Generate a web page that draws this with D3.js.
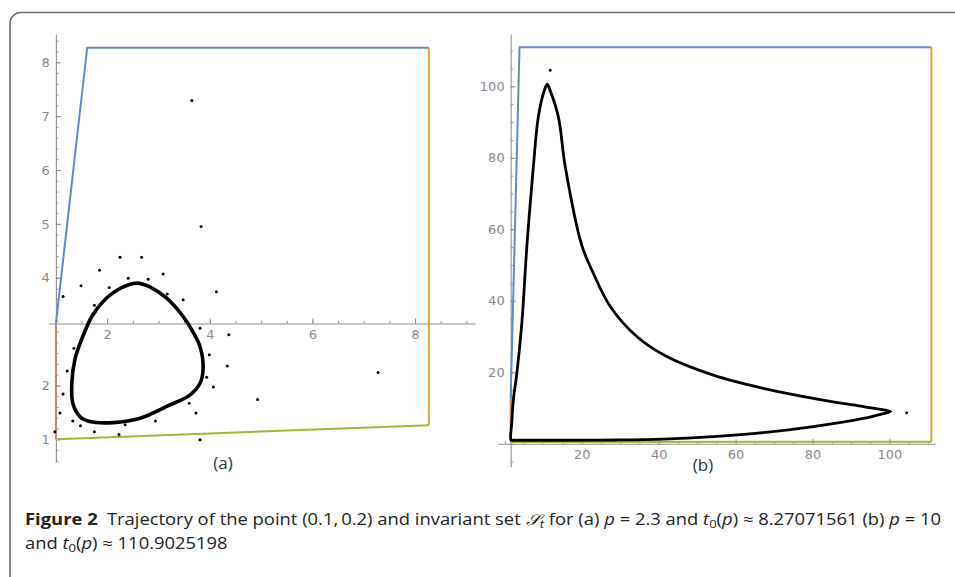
<!DOCTYPE html>
<html>
<head>
<meta charset="utf-8">
<script src="https://cdn.jsdelivr.net/npm/d3@7"></script>
<style>
  body { margin: 0; background: #fff; }
</style>
</head>
<body>
<div id="fig"></div>
<script>
// ---- panel (a): p = 2.3, t0 = 8.27 ----
var xTicksA = [2, 4, 6, 8];
var yTicksA = [1, 2, 4, 5, 6, 7, 8];
var blueA   = [[1.0, 3.15], [1.61, 8.27], [8.27, 8.27]];
var orangeA = [[8.27, 8.27], [8.27, 1.26]];
var greenA  = [[8.27, 1.26], [1.0, 1.0]];
var redA    = [[1.0, 1.0], [1.0, 3.15]];
// limit cycle of the trajectory
var loopA = [[1.50, 2.85], [1.37, 2.48], [1.31, 2.04], [1.33, 1.67], [1.47, 1.42], [1.66, 1.33],
             [2.12, 1.31], [2.64, 1.39], [3.16, 1.61], [3.61, 1.82], [3.81, 2.04], [3.87, 2.32],
             [3.81, 2.72], [3.65, 3.03], [3.48, 3.28], [3.16, 3.62], [2.83, 3.83], [2.58, 3.90],
             [2.25, 3.80], [1.92, 3.56], [1.70, 3.28]];
// transient points of the trajectory
var dotsA = [[2.25, 4.38], [2.67, 4.38], [1.85, 4.14], [3.09, 4.07], [2.41, 3.99], [2.80, 3.97],
             [1.49, 3.85], [2.04, 3.82], [4.13, 3.74], [1.14, 3.65], [3.17, 3.70], [3.48, 3.59],
             [1.75, 3.49], [3.81, 3.06], [4.37, 2.94], [1.35, 2.69], [3.99, 2.57], [4.34, 2.36],
             [1.22, 2.27], [7.28, 2.24], [3.94, 2.15], [4.07, 1.97], [1.14, 1.84], [4.93, 1.74],
             [3.60, 1.67], [1.08, 1.49], [3.73, 1.49], [1.33, 1.34], [1.48, 1.25], [2.35, 1.27],
             [2.94, 1.34], [1.75, 1.14], [2.23, 1.09], [3.81, 0.99], [0.98, 1.14], [3.65, 7.29],
             [3.83, 4.95]];

// ---- panel (b): p = 10, t0 = 110.9 ----
var xTicksB = [20, 40, 60, 80, 100];
var yTicksB = [20, 40, 60, 80, 100];
var blueB   = [[1.5, 12.5], [3.8, 110.9], [110.9, 110.9]];
var orangeB = [[110.9, 110.9], [110.9, 0.6]];
var greenB  = [[110.9, 0.6], [1.5, 0.5]];
var redB    = [[1.5, 0.5], [1.5, 12.5]];
var loopB = [[1.6, 1.0], [1.8, 6], [2.2, 12.3], [3.1, 19.7], [4.4, 33.7], [5.7, 55], [7.4, 77.5],
             [8.7, 91.5], [10.3, 99], [11.0, 100.6], [11.7, 99], [13.9, 91.5], [15.7, 77.5],
             [20.0, 55.5], [23, 47.7], [27.4, 38.4], [34.3, 30], [42.1, 24.4], [54.2, 19.2],
             [67.2, 15.5], [80.2, 12.7], [93.2, 10.4], [99, 9.4], [100.3, 9.0], [99, 8.6],
             [93.2, 7.1], [80.2, 4.8], [67.2, 3.1], [54.2, 2.0], [41.2, 1.3], [28.2, 1.06],
             [15.2, 1.0], [2.2, 1.0]];
var dotsB = [[11.8, 104.5], [104.5, 8.7]];

// caption pieces: [text, style]
var captionLine1 = [["Figure 2", "b"], ["\u2002Trajectory of the point (0.1,\u20090.2) and invariant set ", ""],
                    ["\uD835\uDCAE", "i"], ["t", "isub"], [" for (a) ", ""], ["p", "i"], [" = 2.3 and ", ""],
                    ["t", "i"], ["0", "sub"], ["(", ""], ["p", "i"], [") \u2248 8.27071561 (b) ", ""],
                    ["p", "i"], [" = 10", ""]];
var captionLine2 = [["and ", ""], ["t", "i"], ["0", "sub"], ["(", ""], ["p", "i"], [") \u2248 110.9025198", ""]];

var colors = { blue: "#6189c2", orange: "#e5a334", green: "#98b83c", red: "#d9826e" };

var svg = d3.select("#fig").append("svg")
    .attr("width", 955).attr("height", 577)
    .style("background", "#fff");

// figure frame, only the top-left corner is in view
svg.append("path")
    .attr("d", "M955,12.5H21A11,11 0 0 0 10,23.5V577")
    .attr("fill", "none").attr("stroke", "#6e6e6e").attr("stroke-width", 1.6);

function drawPanel(o) {
    var x = d3.scaleLinear().domain(o.xDom).range(o.xRange);
    var y = d3.scaleLinear().domain(o.yDom).range(o.yRange);
    // axes span a bit more than the tick domain
    var xa = x.copy().domain(o.xExt).range(o.xExt.map(x));
    var ya = y.copy().domain(o.yExt).range(o.yExt.map(y));
    var ox = x(o.origin[0]), oy = y(o.origin[1]);

    var g = svg.append("g").style("color", "#8e8e8e");

    var minX = d3.range(o.xMinor[0], o.xMinor[1], o.xMinor[2]);
    var minY = d3.range(o.yMinor[0], o.yMinor[1], o.yMinor[2]);

    g.append("g").attr("transform", `translate(0,${oy})`)
        .call(d3.axisBottom(xa).tickValues(minX).tickSize(-2.5).tickFormat(""))
        .call(function(s) { s.select(".domain").remove(); });
    g.append("g").attr("transform", `translate(${ox},0)`)
        .call(d3.axisLeft(ya).tickValues(minY).tickSize(-2.5).tickFormat(""))
        .call(function(s) { s.select(".domain").remove(); });

    var xAxis = g.append("g").attr("transform", `translate(0,${oy})`)
        .call(d3.axisBottom(xa).tickValues(o.xTicks).tickSize(-5).tickSizeOuter(0).tickPadding(6));
    var yAxis = g.append("g").attr("transform", `translate(${ox},0)`)
        .call(d3.axisLeft(ya).tickValues(o.yTicks).tickSize(-5).tickSizeOuter(0).tickPadding(6));
    [xAxis, yAxis].forEach(function(a) {
        a.attr("font-family", "DejaVu Sans").attr("font-size", 13);
        a.selectAll("text").attr("fill", "#8a8a8a");
        a.select(".domain").attr("stroke", "#909090").attr("stroke-width", 1.1);
    });

    var line = d3.line().x(function(d) { return x(d[0]); }).y(function(d) { return y(d[1]); });

    [["blue", o.blue], ["orange", o.orange], ["green", o.green], ["red", o.red]].forEach(function(l) {
        svg.append("path").attr("d", line(l[1]))
            .attr("fill", "none")
            .attr("stroke", colors[l[0]])
            .attr("stroke-width", 2)
            .attr("stroke-linejoin", "round");
    });

    svg.append("path")
        .attr("d", line.curve(o.curve)(o.loop))
        .attr("fill", "none").attr("stroke", "#000")
        .attr("stroke-width", o.loopWidth).attr("stroke-linejoin", "round");

    svg.selectAll(null).data(o.dots).enter().append("circle")
        .attr("cx", function(d) { return x(d[0]); })
        .attr("cy", function(d) { return y(d[1]); })
        .attr("r", 1.5).attr("fill", "#000");

    svg.append("text")
        .attr("x", o.label[0]).attr("y", o.label[1])
        .attr("text-anchor", "middle")
        .attr("font-family", "Open Sans").attr("font-size", 17).attr("fill", "#333")
        .text(o.label[2]);
}

drawPanel({
    xDom: [0, 8], xRange: [4.6, 415], yDom: [1, 8], yRange: [439.3, 62.3],
    xExt: [0.85, 9.17], yExt: [0.58, 8.52], origin: [1.0, 3.15],
    xTicks: xTicksA, yTicks: yTicksA,
    xMinor: [1, 9.01, 0.5], yMinor: [0.6, 8.5, 0.2],
    blue: blueA, orange: orangeA, green: greenA, red: redA,
    loop: loopA, curve: d3.curveCatmullRomClosed.alpha(0.5), loopWidth: 3.6, dots: dotsA,
    label: [223, 469, "(a)"]
});

drawPanel({
    xDom: [0, 100], xRange: [504.9, 889.4], yDom: [0, 100], yRange: [443.8, 86.3],
    xExt: [-1.8, 111.9], yExt: [-6.4, 114.6], origin: [1.5, 0],
    xTicks: xTicksB, yTicks: yTicksB,
    xMinor: [0, 111, 5], yMinor: [-5, 111, 5],
    blue: blueB, orange: orangeB, green: greenB, red: redB,
    loop: loopB, curve: d3.curveCatmullRomClosed.alpha(0.5), loopWidth: 2.8, dots: dotsB,
    label: [703, 471, "(b)"]
});

// caption
function addLine(pieces, yPos) {
    var t = svg.append("text")
        .attr("x", 25).attr("y", yPos)
        .attr("font-family", "Open Sans").attr("font-size", 15.5).attr("fill", "#222")
        .style("white-space", "pre");
    pieces.forEach(function(p) {
        var s = t.append("tspan").text(p[0]);
        if (p[1] == "b") s.attr("font-weight", "bold");
        if (p[1].indexOf("i") == 0) s.attr("font-style", "italic");
        if (p[1].indexOf("sub") >= 0) s.attr("font-size", 11).attr("baseline-shift", "-3");
    });
    return t;
}
var l1 = addLine(captionLine1, 525);
var l2 = addLine(captionLine2, 549);
var ratio = 916 / l1.node().getComputedTextLength();
l1.attr("textLength", 916).attr("lengthAdjust", "spacingAndGlyphs");
l2.attr("textLength", l2.node().getComputedTextLength() * ratio).attr("lengthAdjust", "spacingAndGlyphs");
</script>
</body>
</html>
